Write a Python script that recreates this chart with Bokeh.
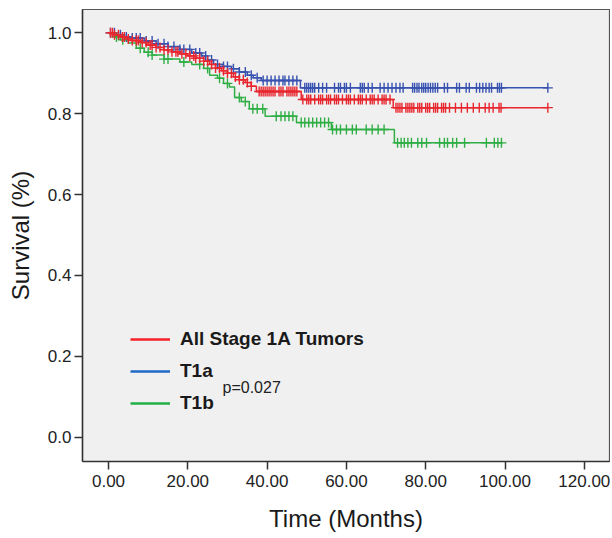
import numpy as np
from bokeh.plotting import figure
from bokeh.models import (Range1d, FixedTicker, PrintfTickFormatter, Legend, LegendItem, Label)
from bokeh.embed import file_html
from bokeh.resources import INLINE

# ---------------- data ----------------
# Kaplan-Meier step curves: time at which the survival value starts, and the value
all_t = [0, 1.5, 3, 4.5, 6, 8, 10, 12, 14, 16, 18, 20, 22, 24, 25.5, 27, 28.5, 30,
         31.5, 33, 34.5, 36, 37.3, 48.6, 71.8]
all_s = [1.0, 0.995, 0.99, 0.985, 0.981, 0.976, 0.970, 0.964, 0.958, 0.953, 0.948,
         0.943, 0.937, 0.930, 0.922, 0.913, 0.906, 0.900, 0.891, 0.884, 0.877, 0.868,
         0.855, 0.835, 0.815]
all_end = 110.8

t1a_t = [0, 2, 4, 6, 9, 12, 15, 18, 21, 23.5, 25, 26.5, 29, 31, 33, 35, 36.5, 38.5, 48.4]
t1a_s = [1.0, 0.995, 0.99, 0.987, 0.980, 0.973, 0.966, 0.959, 0.950, 0.943, 0.933,
         0.922, 0.917, 0.911, 0.903, 0.895, 0.889, 0.882, 0.864]
t1a_end = 110.8

t1b_t = [0, 1.5, 3, 5, 7, 9, 11, 14, 18, 21, 24, 25.5, 27.5, 29, 30.5, 31.8, 33.5,
         35.5, 39.5, 47.4, 56.2, 72.1]
t1b_s = [1.0, 0.99, 0.983, 0.975, 0.962, 0.952, 0.945, 0.935, 0.928, 0.922, 0.912,
         0.895, 0.888, 0.875, 0.866, 0.840, 0.830, 0.812, 0.794, 0.778, 0.761, 0.728]
t1b_end = 99.2

# censored observations (months)
all_cens = [0.5, 1, 1.5, 2.5, 3.5, 4, 5, 6, 7, 7.5, 8.5, 9.5, 10.5, 11, 12, 13, 14, 15,
            16, 17, 17.5, 18.5, 19.5, 20.5, 21.5, 22, 23, 24, 25, 26, 27, 28, 29, 30,
            31, 32, 33, 34, 35, 36, 38, 38.5, 39, 39.5, 40, 40.5, 41, 41.5, 42, 43,
            43.5, 44, 45, 45.5, 46, 46.5, 47, 47.5, 49, 50, 50.5, 51, 52, 53, 53.5, 54,
            55, 55.5, 56, 57, 57.5, 58, 59, 60, 60.5, 61, 62, 63, 63.5, 64, 65, 66,
            66.5, 67, 68, 69, 69.5, 70, 71, 72.5, 73, 73.5, 74, 75, 75.5, 76, 76.5, 77,
            78, 78.5, 79, 80, 80.5, 81, 82, 82.5, 83, 84, 84.5, 85, 86, 87.5, 89, 90.5,
            92, 93.5, 95, 96, 97, 98.5, 99, 110.8]
t1a_cens = [0.5, 1.5, 3, 4.5, 6, 7, 8, 9.5, 11, 12.5, 14, 15, 16.5, 18, 19, 20.5, 22,
            23, 24.5, 26, 27.5, 29, 30, 31.5, 33, 34.5, 36, 37.5, 39, 40, 41, 42, 43,
            44, 44.5, 45.5, 46.5, 47.5, 49.5, 50, 50.5, 51, 51.5, 52, 53, 54, 55, 57,
            58, 58.5, 59.5, 60, 61, 63.5, 64, 64.5, 65.5, 66.5, 68.5, 69.5, 70.5, 71.5,
            72.5, 73.5, 74.3, 76.7, 77.2, 77.8, 78.3, 79, 79.5, 80, 80.6, 81.2, 81.8,
            82.4, 83, 84.7, 85.5, 87.8, 88.5, 90.2, 91, 92.8, 93.6, 94.4, 95.2, 96,
            96.6, 98.1, 98.6, 99.1, 110.8]
t1b_cens = [2, 3.6, 8, 10, 11, 14, 15, 19, 23, 25, 28, 30, 33, 34.5, 36.4, 37.5, 38.9,
            42.3, 43.5, 44.5, 45.5, 46.5, 48.6, 49.5, 50.5, 51.5, 52.5, 53.5, 54.5,
            55.5, 56.5, 57.5, 58.5, 60, 61.5, 62.5, 65, 66.5, 68, 69.5, 72.9, 73.8,
            74.6, 75.5, 76.4, 78, 79, 80.2, 83.5, 84.7, 85.5, 86.8, 87.8, 89.8, 95.3,
            97.3, 98.2, 99.1]

labels = ["All Stage 1A Tumors", "T1a", "T1b"]
x_ticks = [0, 20, 40, 60, 80, 100, 120]
y_ticks = [0.0, 0.2, 0.4, 0.6, 0.8, 1.0]
p_text = "p=0.027"

colors = ["#e8262e", "#3752b0", "#2fae44"]
legend_colors = ["#f5222a", "#2068c4", "#22b046"]
FONT = "Liberation Sans"

# ---------------- figure ----------------
p = figure(width=610, height=536, output_backend="svg", toolbar_location=None,
           x_range=Range1d(-6.56, 126.35), y_range=Range1d(-0.060, 1.0577),
           min_border_left=82, min_border_right=1, min_border_top=9, min_border_bottom=75)
p.background_fill_color = "#f0f0f0"
p.border_fill_color = "white"
p.outline_line_color = "#555555"
p.outline_line_width = 1.2
p.grid.visible = False

def step_xy(ts, ss, end):
    xs = list(ts) + [end]
    ys = list(ss) + [ss[-1]]
    return xs, ys

def surv_at(ts, ss, times):
    idx = np.searchsorted(np.array(ts), np.array(times), side="right") - 1
    return list(np.array(ss)[idx])

series = [(all_t, all_s, all_end, all_cens), (t1a_t, t1a_s, t1a_end, t1a_cens),
          (t1b_t, t1b_s, t1b_end, t1b_cens)]
order = [1, 2, 0]
for i in order:
    ts, ss, end, cens = series[i]
    xs, ys = step_xy(ts, ss, end)
    p.step(xs, ys, mode="after", line_color=colors[i], line_width=1.5)
    p.scatter(cens, surv_at(ts, ss, cens), marker="cross", size=10,
              line_color=colors[i], line_width=1.4)

# legend swatches (renderers without drawable data, only used by the legend)
swatches = [p.line(x=[np.nan, np.nan], y=[np.nan, np.nan], line_color=legend_colors[i],
                   line_width=2.6) for i in range(3)]

legend = Legend(items=[LegendItem(label=labels[i], renderers=[swatches[i]]) for i in range(3)],
                location=(48, 47), orientation="vertical",
                glyph_width=40, glyph_height=20, label_height=20, spacing=10,
                label_standoff=10, padding=0, margin=0,
                border_line_color=None, background_fill_alpha=0,
                label_text_font=FONT, label_text_font_style="bold",
                label_text_font_size="19px", label_text_color="#1a1a1a")
p.add_layout(legend)

p.add_layout(Label(x=140, y=74, x_units="screen", y_units="screen", text=p_text,
                   text_font=FONT, text_font_size="16px", text_color="#222222",
                   text_baseline="middle"))

# axes
p.xaxis.ticker = FixedTicker(ticks=x_ticks)
p.yaxis.ticker = FixedTicker(ticks=y_ticks)
p.xaxis.formatter = PrintfTickFormatter(format="%.2f")
p.yaxis.formatter = PrintfTickFormatter(format="%.1f")
p.xaxis.axis_label = "Time (Months)"
p.yaxis.axis_label = "Survival (%)"
for ax in (p.xaxis, p.yaxis):
    ax.axis_line_color = "#333333"
    ax.axis_line_width = 1.5
    ax.major_tick_line_color = "#333333"
    ax.major_tick_line_width = 1.5
    ax.major_tick_out = 8
    ax.major_tick_in = 0
    ax.minor_tick_line_color = None
    ax.major_label_text_font = FONT
    ax.major_label_text_font_size = "17px"
    ax.major_label_text_color = "#222222"
    ax.axis_label_text_font = FONT
    ax.axis_label_text_font_size = "24px"
    ax.axis_label_text_font_style = "normal"
    ax.axis_label_text_color = "#1a1a1a"
p.xaxis.major_label_standoff = 5
p.yaxis.major_label_standoff = 3
p.xaxis.axis_label_standoff = 15
p.yaxis.axis_label_standoff = 11

open("out.html", "w").write(file_html(p, INLINE))
